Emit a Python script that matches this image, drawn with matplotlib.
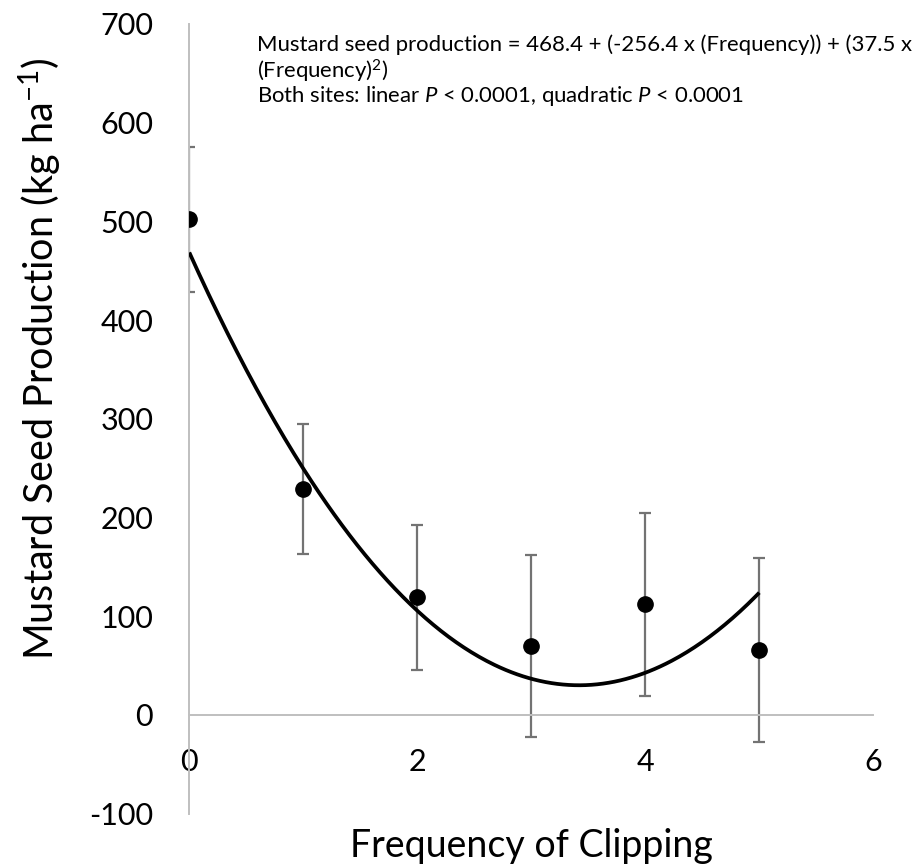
import numpy as np
import matplotlib
matplotlib.use("Agg")
import matplotlib.pyplot as plt

plt.rcParams['font.family'] = ['Lato', 'DejaVu Sans']
plt.rcParams['mathtext.fontset'] = 'custom'
plt.rcParams['mathtext.rm'] = 'Lato'
plt.rcParams['mathtext.it'] = 'Lato:italic'

# Data
frequency = [0, 1, 2, 3, 4, 5]
seed_production = [502, 229, 119, 70, 112, 66]
seed_error = [73.5, 65.5, 73.5, 92, 93, 93]
# Quadratic fit coefficients (intercept, linear, quadratic)
fit_coef = [468.4, -256.4, 37.5]
fit_range = [0, 5]

x_ticks = [0, 2, 4, 6]
y_ticks = [-100, 0, 100, 200, 300, 400, 500, 600, 700]

fig = plt.figure(figsize=(9.17, 8.68), dpi=100)
ax = fig.add_axes([189.3 / 917, 54.25 / 868, 684 / 917, 790 / 868])

xs = np.linspace(fit_range[0], fit_range[1], 300)
ys = fit_coef[0] + fit_coef[1] * xs + fit_coef[2] * xs ** 2
ax.plot(xs, ys, color='black', lw=2.7, zorder=3, solid_capstyle='butt')

ax.errorbar(frequency, seed_production, yerr=seed_error, fmt='none',
            ecolor='#737373', elinewidth=1.6, capsize=4, capthick=1.6, zorder=2)
ax.plot(frequency, seed_production, 'o', color='black', markersize=11, zorder=4)

ax.set_xlim(0, 6)
ax.set_ylim(-100, 700)

for s in ['top', 'right']:
    ax.spines[s].set_visible(False)
ax.spines['bottom'].set_position(('data', 0))
ax.spines['left'].set_position(('data', 0))
for s in ['bottom', 'left']:
    ax.spines[s].set_color('#bfbfbf')
    ax.spines[s].set_linewidth(1.4)

ax.set_xticks(x_ticks)
ax.set_xticklabels([str(v) for v in x_ticks])
ax.set_yticks(y_ticks)
ax.set_yticklabels([str(v) for v in y_ticks])
ax.tick_params(axis='both', length=0, labelsize=22, colors='black')
ax.tick_params(axis='y', pad=26)
ax.tick_params(axis='x', pad=24)

fig.text(531 / 917, 1 - 857 / 868, 'Frequency of Clipping', ha='center', va='baseline',
         fontsize=27)
fig.text(40 / 917, 1 - 359 / 868, 'Mustard Seed Production (kg ha$^{\\mathregular{-1}}$)',
         ha='center', va='center', rotation=90, fontsize=28.5)

ann_lines = ['Mustard seed production = 468.4 + (-256.4 x (Frequency)) + (37.5 x',
             '(Frequency)$^{\\mathregular{2}}$)',
             'Both sites: linear $\\mathit{P}$ < 0.0001, quadratic $\\mathit{P}$ < 0.0001']
ann_y = [45, 71, 96]
for line, yy in zip(ann_lines, ann_y):
    fig.text(257 / 917, 1 - yy / 868, line, ha='left', va='center', fontsize=15.9)

fig.savefig('out.png', dpi=100, facecolor='white')
